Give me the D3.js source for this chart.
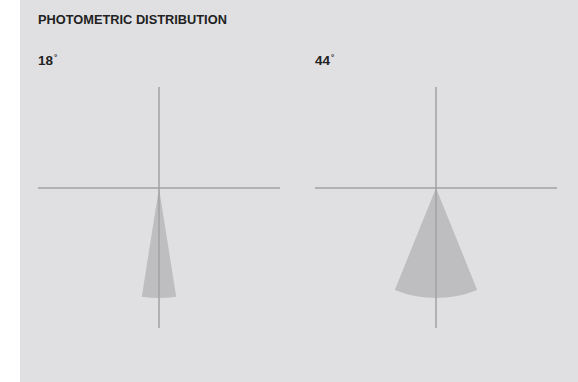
<!DOCTYPE html>
<html><head><meta charset="utf-8">
<script src="https://cdn.jsdelivr.net/npm/d3@7"></script>
<style>html,body{margin:0;padding:0;background:#fff;}svg{display:block;}</style>
</head><body>
<script>
const title = "PHOTOMETRIC DISTRIBUTION";
const beamLabels = ["18", "44"];
const beamAngles = [18, 44];
const beamIntensity = [1, 1];

const W = 578, H = 382;
const svg = d3.select("body").append("svg").attr("width", W).attr("height", H);
svg.append("rect").attr("x", 20).attr("y", 0).attr("width", W - 20).attr("height", H).attr("fill", "#e0e0e2");
svg.append("text").attr("x", 38).attr("y", 23.5).text(title)
  .attr("font-family", "Liberation Sans, Arial, sans-serif").attr("font-weight", "bold")
  .attr("font-size", 12.8).attr("fill", "#222");

const panelX = d3.scaleBand().domain(beamLabels).range([38, 592]).paddingInner(0);
const r = d3.scaleLinear().domain([0, 1]).range([0, 110]);
const halfLen = 121;
const cy = 188;

beamLabels.forEach((lab, i) => {
  const x0 = panelX(lab);
  const cx = x0 + 121;
  const g = svg.append("g");
  const t = g.append("text").attr("x", x0).attr("y", 65)
    .attr("font-family", "Liberation Sans, Arial, sans-serif").attr("font-weight", "bold")
    .attr("font-size", 13.5).attr("fill", "#222");
  t.append("tspan").text(lab);
  t.append("tspan").text("°").attr("font-size", 8).attr("dy", -5).attr("dx", 1);
  const a = beamAngles[i] / 2 * Math.PI / 180;
  const arc = d3.arc().innerRadius(0).outerRadius(r(beamIntensity[i]))
    .startAngle(Math.PI - a).endAngle(Math.PI + a);
  g.append("path").attr("d", arc()).attr("transform", `translate(${cx},${cy})`).attr("fill", "#bebec1");
  g.append("line").attr("x1", cx - halfLen).attr("x2", cx + halfLen).attr("y1", cy).attr("y2", cy)
    .attr("stroke", "#a2a2a4").attr("stroke-width", 1.5);
  g.append("line").attr("x1", cx).attr("x2", cx).attr("y1", 87).attr("y2", 328)
    .attr("stroke", "#a2a2a4").attr("stroke-width", 1.5);
});
</script>
</body></html>
